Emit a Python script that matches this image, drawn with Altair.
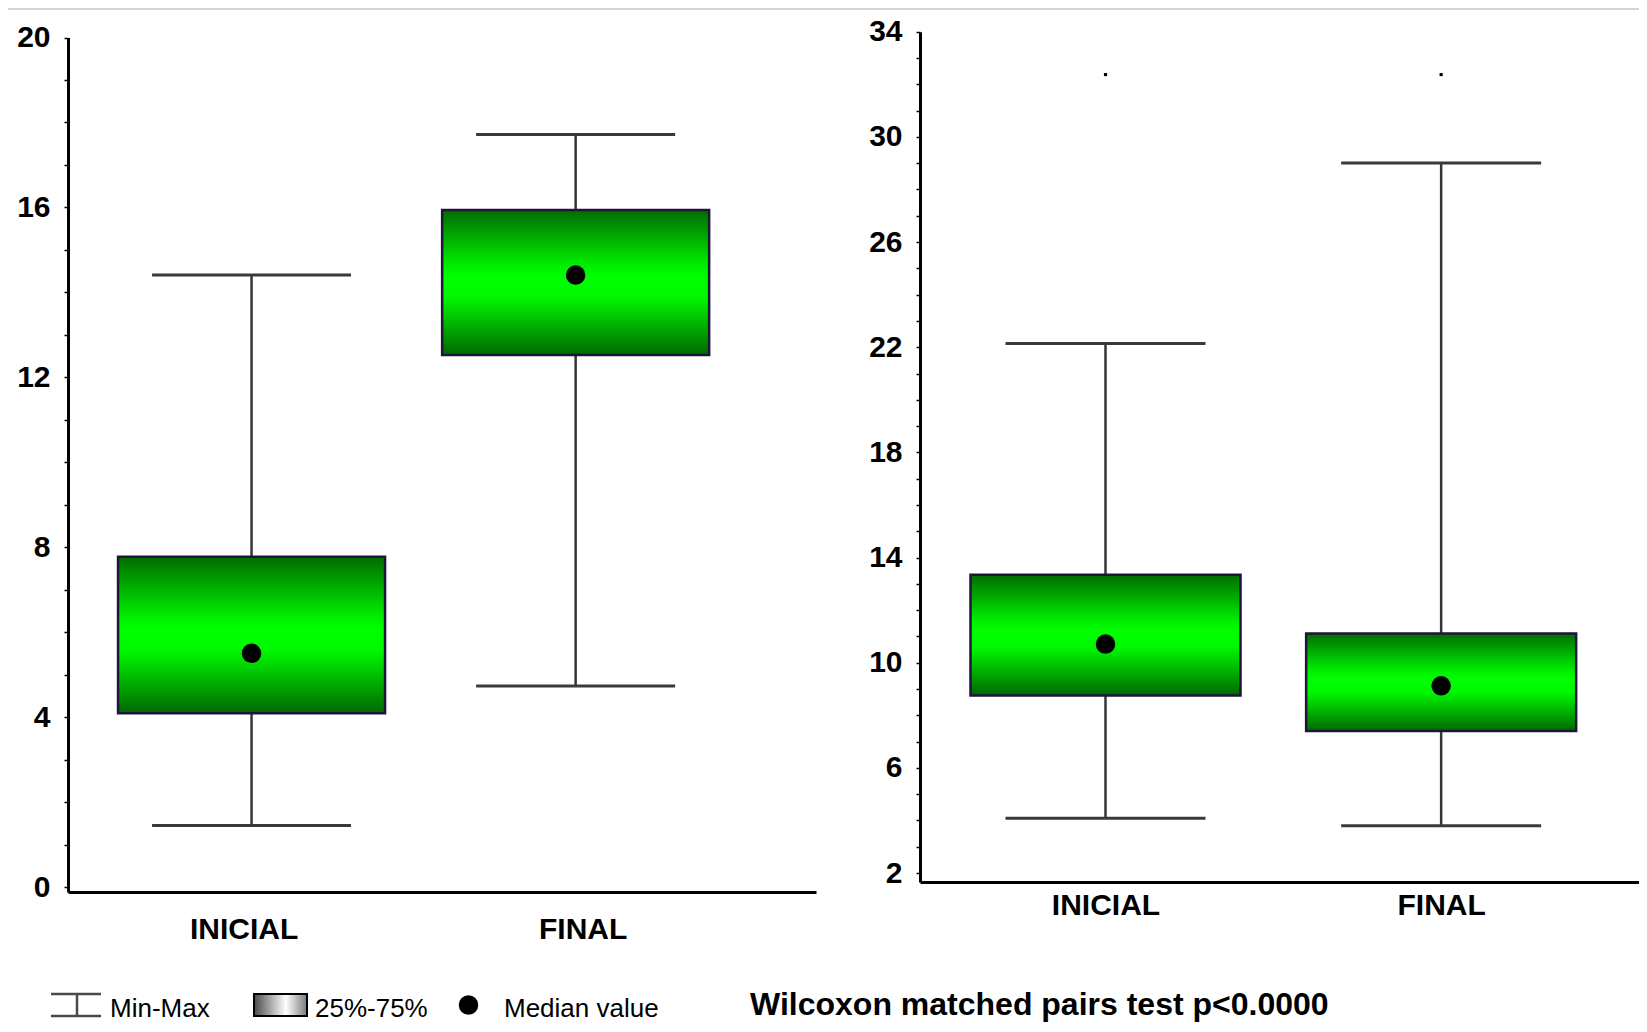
import altair as alt
import pandas as pd

# ---------------- data ----------------
grupos = ["INICIAL", "FINAL"]

# left panel
izq_min = [1.46, 4.74]
izq_q1 = [4.10, 12.53]
izq_med = [5.51, 14.41]
izq_q3 = [7.78, 15.94]
izq_max = [14.41, 17.72]

# right panel
der_min = [4.08, 3.80]
der_q1 = [8.75, 7.40]
der_med = [10.71, 9.12]
der_q3 = [13.35, 11.11]
der_max = [22.14, 29.01]
der_ext = [32.37, 32.37]

izq_ticks = list(range(0, 21))
der_ticks = list(range(2, 35))

leyenda = ["Min-Max", "25%-75%", "Median value"]
nota = "Wilcoxon matched pairs test p<0.0000"

W, H = 1631, 1016
FONT = "Liberation Sans"

df_izq = pd.DataFrame({"grupo": grupos, "mn": izq_min, "q1": izq_q1, "med": izq_med,
                       "q3": izq_q3, "mx": izq_max})
df_der = pd.DataFrame({"grupo": grupos, "mn": der_min, "q1": der_q1, "med": der_med,
                       "q3": der_q3, "mx": der_max, "ext": der_ext})

green = {"gradient": "linear", "x1": 0, "y1": 0, "x2": 0, "y2": 1,
         "stops": [{"offset": 0, "color": "#006c00"},
                   {"offset": 0.38, "color": "#00ee00"},
                   {"offset": 0.47, "color": "#00ff00"},
                   {"offset": 0.6, "color": "#00f800"},
                   {"offset": 1, "color": "#006800"}]}
grayh = {"gradient": "linear", "x1": 0, "y1": 0, "x2": 1, "y2": 0,
         "stops": [{"offset": 0, "color": "#4a4a4a"},
                   {"offset": 0.6, "color": "#ffffff"},
                   {"offset": 1, "color": "#7a7a7a"}]}


def panel(df, xrange, pad, align, ydom, yrange, xoff, yoff, ticks, lexpr,
          box_w, cap_w, lpad, loffset, extremes=False):
    xs = alt.Scale(type="point", domain=grupos, range=xrange, padding=pad, align=align)
    ys = alt.Scale(domain=ydom, range=yrange, nice=False, zero=False)
    xax = alt.Axis(orient="bottom", offset=xoff, title=None, ticks=False, tickSize=0,
                   domainWidth=3, domainColor="black", labelFont=FONT, labelFontSize=30,
                   labelFontWeight="bold", labelColor="black", labelPadding=lpad,
                   labelBaseline="middle", labelAngle=0, labelOffset=loffset, grid=False)
    yax = alt.Axis(orient="left", offset=yoff, title=None, values=ticks, labelExpr=lexpr,
                   tickSize=4, tickWidth=1.5, tickColor="black", domainWidth=3,
                   domainColor="black", labelFont=FONT, labelFontSize=30,
                   labelFontWeight="bold", labelColor="black", labelPadding=14,
                   labelOverlap=False, grid=False)
    X = alt.X("grupo:N", scale=xs, axis=xax, sort=grupos)
    base = alt.Chart(df)
    whisk = base.mark_rule(color="#353535", strokeWidth=2.5).encode(
        x=X, y=alt.Y("mn:Q", scale=ys, axis=yax), y2="mx:Q")
    cap_lo = base.mark_tick(orient="horizontal", size=cap_w, thickness=3,
                            color="#3a3a3a", opacity=1).encode(
        x=X, y=alt.Y("mn:Q", scale=ys, axis=yax))
    cap_hi = base.mark_tick(orient="horizontal", size=cap_w, thickness=3,
                            color="#3a3a3a", opacity=1).encode(
        x=X, y=alt.Y("mx:Q", scale=ys, axis=yax))
    box = base.mark_bar(size=box_w, fill=green, stroke="#1e1538", strokeWidth=2.5).encode(
        x=X, y=alt.Y("q3:Q", scale=ys, axis=yax), y2="q1:Q")
    med = base.mark_point(filled=True, size=380, color="black", opacity=1, shape="circle").encode(
        x=X, y=alt.Y("med:Q", scale=ys, axis=yax))
    layers = [whisk, cap_lo, cap_hi, box, med]
    if extremes:
        ext = base.mark_square(size=10, color="black", opacity=1).encode(
            x=X, y=alt.Y("ext:Q", scale=ys, axis=yax))
        layers.append(ext)
    return alt.layer(*layers)


izq = panel(df_izq, [60, 808], 0.654, 0.433, [-0.106, 20], [884, 29.5], -(H - 884), -60,
            izq_ticks, "datum.value % 4 == 0 ? datum.label : ''", 267, 199, 37,
            {"condition": {"test": "datum.label == 'INICIAL'", "value": -8}, "value": 7})
der = panel(df_der, [912, 1639], 0.583, 0.474, [1.66, 34], [874, 23.7], -(H - 874), -912,
            der_ticks, "(datum.value - 2) % 4 == 0 ? datum.label : ''", 270, 200, 23,
            0, extremes=True)

one = pd.DataFrame({"k": [0]})
band = alt.Chart(one).mark_rect(color="#d3d3d3").encode(
    x=alt.value(0), x2=alt.value(W), y=alt.value(0), y2=alt.value(2))

LY = 1009  # legend baseline (canvas)
ic_top = alt.Chart(one).mark_rule(color="#4a4a4a", strokeWidth=2.5).encode(
    x=alt.value(43), x2=alt.value(93), y=alt.value(LY - 23))
ic_bot = alt.Chart(one).mark_rule(color="#4a4a4a", strokeWidth=2.5).encode(
    x=alt.value(43), x2=alt.value(93), y=alt.value(LY - 1))
ic_mid = alt.Chart(one).mark_rule(color="#4a4a4a", strokeWidth=2.5).encode(
    x=alt.value(69), y=alt.value(LY - 23), y2=alt.value(LY - 1))
ic_box = alt.Chart(one).mark_rect(fill=grayh, stroke="black", strokeWidth=2).encode(
    x=alt.value(246), x2=alt.value(299), y=alt.value(LY - 23), y2=alt.value(LY - 1))
ic_dot = alt.Chart(one).mark_point(filled=True, size=380, color="black", opacity=1).encode(
    x=alt.value(460.5), y=alt.value(LY - 12))

def txt(s, x, y, size, weight="normal"):
    return alt.Chart(one).mark_text(align="left", baseline="alphabetic", font=FONT,
                                    fontSize=size, fontWeight=weight, color="black").encode(
        x=alt.value(x), y=alt.value(y), text=alt.value(s))

t1 = txt(leyenda[0], 102, LY, 26)
t2 = txt(leyenda[1], 307, LY, 26)
t3 = txt(leyenda[2], 496, LY, 26)
t4 = txt(nota, 742, 1007, 32, "bold")

chart = alt.layer(band, izq, der, ic_top, ic_bot, ic_mid, ic_box, ic_dot, t1, t2, t3, t4).properties(
    width=W, height=H, autosize=alt.AutoSizeParams(type="none"), padding=0
).resolve_scale(x="independent", y="independent").configure_view(strokeWidth=0)

chart.save("out.html", embed_options={"renderer": "svg", "actions": False})
